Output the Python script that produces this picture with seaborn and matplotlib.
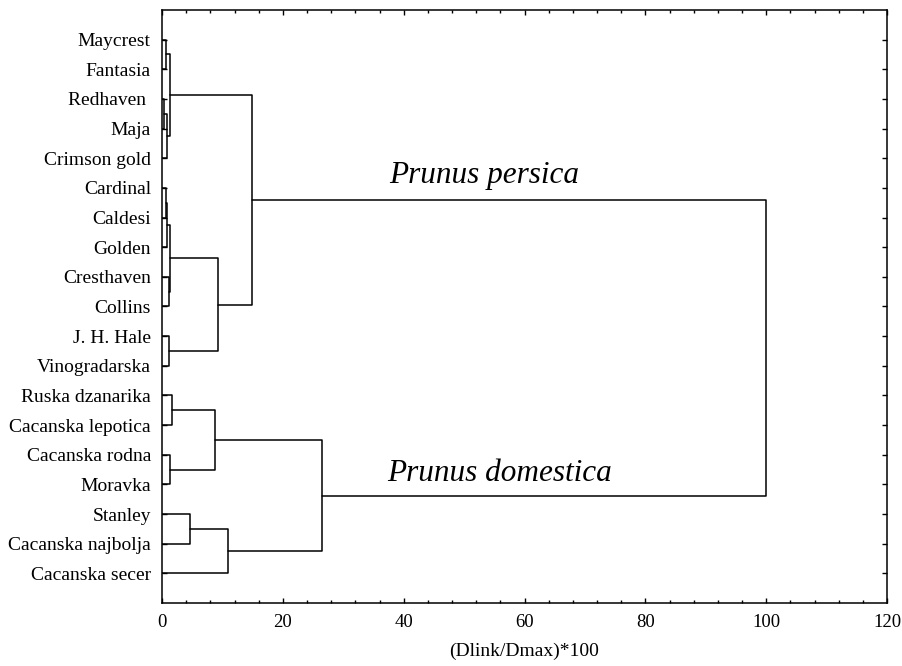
import pandas as pd
import matplotlib
matplotlib.use("Agg")
import matplotlib.pyplot as plt
import seaborn as sns
from matplotlib.ticker import MultipleLocator

# Leaf order, top to bottom
leaves = ["Maycrest", "Fantasia", "Redhaven ", "Maja", "Crimson gold",
          "Cardinal", "Caldesi", "Golden", "Cresthaven", "Collins",
          "J. H. Hale", "Vinogradarska", "Ruska dzanarika", "Cacanska lepotica",
          "Cacanska rodna", "Moravka", "Stanley", "Cacanska najbolja",
          "Cacanska secer"]

# Merges read from the tree: (left, right) joined at (Dlink/Dmax)*100
merge_name = ["A", "B", "C", "D", "E", "F", "G", "H", "I", "J",
              "K", "L", "M", "N", "O", "P", "Q", "R"]
merge_left = ["Maycrest", "Redhaven ", "B", "A", "Cardinal", "E", "Cresthaven", "F",
              "J. H. Hale", "H", "D", "Ruska dzanarika", "Cacanska rodna", "L",
              "Stanley", "O", "N", "K"]
merge_right = ["Fantasia", "Maja", "Crimson gold", "C", "Caldesi", "Golden", "Collins", "G",
               "Vinogradarska", "I", "J", "Cacanska lepotica", "Moravka", "M",
               "Cacanska najbolja", "Cacanska secer", "P", "Q"]
merge_height = [0.7, 0.3, 0.8, 1.4, 0.6, 0.8, 1.1, 1.3,
                1.2, 9.3, 14.9, 1.6, 1.3, 8.8,
                4.6, 10.9, 26.5, 100.0]

group_labels = ["Prunus persica", "Prunus domestica"]

# Build the elbow segments of the dendrogram
pos = {name: i + 1 for i, name in enumerate(leaves)}
hgt = {name: 0.0 for name in leaves}
rows = []
for k, (name, a, b, h) in enumerate(zip(merge_name, merge_left, merge_right, merge_height)):
    xs = [hgt[a], h, h, hgt[b]]
    ys = [pos[a], pos[a], pos[b], pos[b]]
    for j, (x, y) in enumerate(zip(xs, ys)):
        rows.append({"seg": k, "step": j, "x": x, "y": y})
    pos[name] = (pos[a] + pos[b]) / 2
    hgt[name] = h
seg_df = pd.DataFrame(rows)

sns.set_theme(style="ticks")
plt.rcParams["font.family"] = ["Liberation Serif", "DejaVu Serif"]
plt.rcParams["text.color"] = "black"
plt.rcParams["axes.labelcolor"] = "black"
plt.rcParams["xtick.color"] = "black"
plt.rcParams["ytick.color"] = "black"

fig = plt.figure(figsize=(9.03, 6.66), dpi=100)
ax = fig.add_axes([0.1794, 0.0946, 0.8029, 0.8904])

sns.lineplot(data=seg_df, x="x", y="y", units="seg", estimator=None, sort=False,
             color="black", linewidth=1.1, ax=ax)

ax.set_xlim(0, 120)
ax.set_ylim(len(leaves) + 1, 0)
ax.set_yticks(range(1, len(leaves) + 1))
ax.set_yticklabels(leaves, fontsize=14)
ax.xaxis.set_major_locator(MultipleLocator(20))
ax.xaxis.set_minor_locator(MultipleLocator(4))
ax.tick_params(axis="x", labelsize=13.5)
ax.tick_params(which="both", direction="in", top=True, right=True, colors="black",
               width=1.0)
ax.tick_params(which="major", length=3.5, pad=8)
ax.tick_params(which="minor", length=2)
for sp in ax.spines.values():
    sp.set_visible(True)
    sp.set_linewidth(1.1)
    sp.set_color("black")

ax.set_xlabel("(Dlink/Dmax)*100", fontsize=14, labelpad=8, color="black")
ax.set_ylabel("")

# group names over the two main branches
ax.text(37.6, 5.85, group_labels[0], fontsize=22.5, style="italic", va="baseline", color="black")
ax.text(37.3, 15.9, group_labels[1], fontsize=22.5, style="italic", va="baseline", color="black")

fig.savefig("out.png", dpi=100)
